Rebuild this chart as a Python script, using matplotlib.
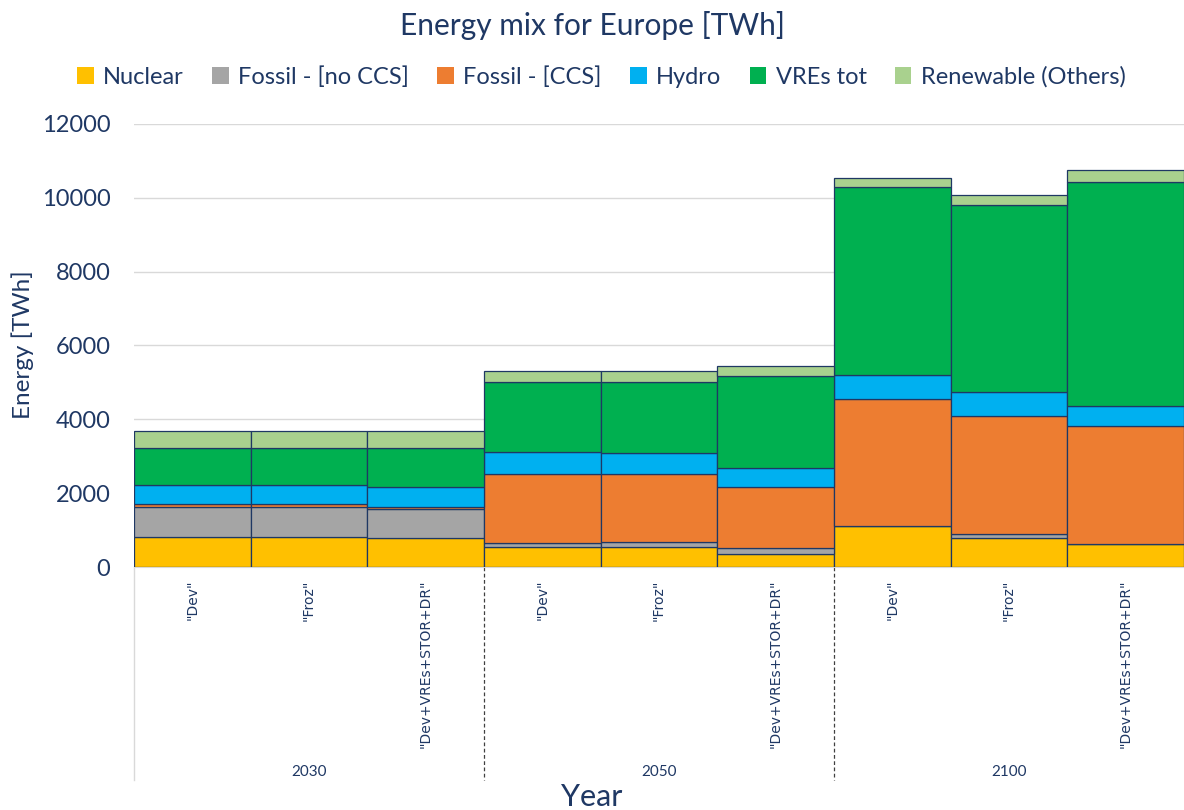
import numpy as np
import matplotlib.pyplot as plt
from matplotlib.patches import Patch

plt.rcParams['font.family'] = ['Lato', 'DejaVu Sans']

# data (TWh)
years = ["2030", "2050", "2100"]
scenarios = ['"Dev"', '"Froz"', '"Dev+VREs+STOR+DR"']
tech = ["Nuclear", "Fossil - [no CCS]", "Fossil - [CCS]", "Hydro", "VREs tot", "Renewable (Others)"]

nuclear   = [800, 800, 792, 532, 532, 342, 1100, 775, 620]
fossil    = [815, 815, 767, 108, 135, 163, 0, 108, 0]
fossil_cc = [80, 80, 71, 1892, 1865, 1657, 3460, 3198, 3198]
hydro     = [514, 514, 541, 594, 567, 532, 650, 658, 549]
vres      = [1027, 1027, 1064, 1892, 1919, 2486, 5070, 5063, 6063]
ren_other = [441, 441, 441, 287, 287, 270, 260, 279, 316]

colors = ["#FFC000", "#A5A5A5", "#ED7D31", "#00B0F0", "#00B050", "#A9D18E"]
navy = "#1F3864"

series = [nuclear, fossil, fossil_cc, hydro, vres, ren_other]
x = np.arange(len(years) * len(scenarios))

fig = plt.figure(figsize=(11.84, 8.1), dpi=100)
ax = fig.add_axes([134/1184, 1-567/810, 1-134/1184, 443/810])

bottom = np.zeros(len(x))
for vals, c in zip(series, colors):
    ax.bar(x, vals, width=1.0, bottom=bottom, color=c, edgecolor=navy, linewidth=0.9, zorder=3)
    bottom += np.array(vals)

ax.set_xlim(-0.5, len(x) - 0.5)
ax.set_ylim(0, 12000)
ax.set_yticks(np.arange(0, 12001, 2000))
ax.yaxis.grid(True, color="#D9D9D9", linewidth=1, zorder=0)
ax.set_axisbelow(True)
for s in ["left", "right", "top"]:
    ax.spines[s].set_visible(False)
ax.spines["bottom"].set_color("#D9D9D9")
ax.tick_params(axis="y", length=0, pad=17, labelsize=17, labelcolor=navy)
ax.set_xticks(x)
ax.set_xticklabels(scenarios * len(years), rotation=90, va="top", fontsize=10, color=navy,
                   family="DejaVu Sans")
ax.tick_params(axis="x", length=0, pad=9)

ax.set_ylabel("Energy [TWh]", fontsize=17.5, color=navy)
ax.yaxis.set_label_coords((34 - 134) / 1050, 0.503)

# category separators and year labels
trans = ax.get_xaxis_transform()
low = -(780 - 567) / 443
ax.plot([-0.5, -0.5], [0, low], transform=trans, color="#D9D9D9", lw=1, clip_on=False)
for i in range(1, len(years)):
    xs = i * len(scenarios) - 0.5
    ax.plot([xs, xs], [0, low], transform=trans, color="#404040", lw=0.9, ls=(0, (3, 2)), clip_on=False)
for i, yr in enumerate(years):
    ax.text(i * len(scenarios) + 1, -(772 - 567) / 443, yr, transform=trans, ha="center", va="center",
            fontsize=11, color=navy)

fig.text(0.5, 1 - 797/810, "Year", ha="center", va="center", fontsize=22, color=navy)
fig.text(0.5, 1 - 25/810, "Energy mix for Europe [TWh]", ha="center", va="center", fontsize=21.5, color=navy)

handles = [Patch(facecolor=c, label=t) for c, t in zip(colors, tech)]
fig.legend(handles=handles, loc="center", bbox_to_anchor=(0.508, 1 - 77/810), ncol=6, frameon=False,
           fontsize=17, handlelength=0.7, handleheight=0.7, handletextpad=0.4, columnspacing=1.2,
           labelcolor=navy)

fig.savefig("out.png", dpi=100)
